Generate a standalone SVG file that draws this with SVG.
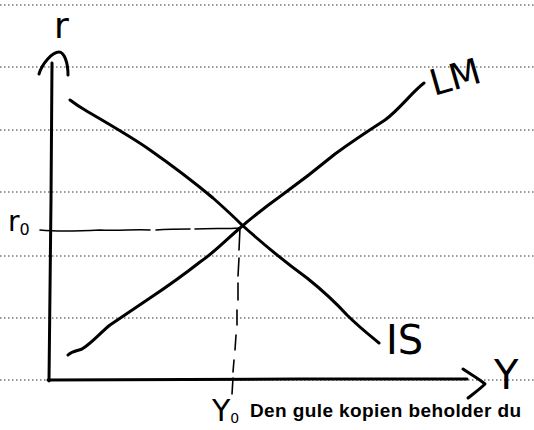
<svg xmlns="http://www.w3.org/2000/svg" width="534" height="430" viewBox="0 0 534 430">
<style>
.rule{stroke:#333;stroke-width:1.2;stroke-dasharray:1.5 2.5;fill:none}
.ink{stroke:#000;stroke-width:3;fill:none;stroke-linecap:round;stroke-linejoin:round}
.thin{stroke:#000;stroke-width:1.6;fill:none;stroke-linecap:round}
.hand{font-family:"DejaVu Sans","Liberation Sans",sans-serif;fill:#000}
.print{font-family:"Liberation Sans",Arial,sans-serif;font-weight:bold;font-size:19px;letter-spacing:0.4px;fill:#000}
</style>
<rect width="534" height="430" fill="#fff"/>
<g id="ruled-lines">
<line class="rule" x1="0" y1="5" x2="534" y2="5"/>
<line class="rule" x1="0" y1="67" x2="534" y2="67"/>
<line class="rule" x1="0" y1="130" x2="534" y2="130"/>
<line class="rule" x1="0" y1="192" x2="534" y2="192"/>
<line class="rule" x1="0" y1="256" x2="534" y2="256"/>
<line class="rule" x1="0" y1="318" x2="534" y2="318"/>
<line class="rule" x1="0" y1="380" x2="534" y2="380"/>
</g>
<g id="axis-r">
<path class="ink" d="M52,63 L51,200 L49,381"/>
<path class="ink" d="M39,74 C42,64 52,52 59,52 C64,52 68,62 68,75"/>
<text class="hand" x="54" y="38" font-size="36">r</text>
</g>
<g id="axis-Y">
<path class="ink" d="M48,380 L300,379 L467,379"/>
<path class="ink" d="M463,369 C470,374 478,378 485,384 C480,389 473,394 468,398"/>
<text class="hand" x="494" y="389" font-size="40">Y</text>
</g>
<g id="curve-IS">
<path class="ink" d="M70,100 C74,103 78,106 85,110 C105,122 130,136 150,150 C170,164 195,183 213,198 C222,206 232,215 242,225 C262,243 285,262 307,278 C322,290 336,303 347,315 C358,326 368,334 379,343"/>
<text class="hand" x="386" y="354" font-size="40">IS</text>
</g>
<g id="curve-LM">
<path class="ink" d="M68,355 C72,351 77,351 82,349 C92,343 100,333 110,325 C125,315 138,306 150,298 C168,286 186,273 200,262 C215,252 228,238 240,228 C255,215 268,205 282,195 C300,182 318,168 335,154 C350,143 368,131 385,120 C400,109 412,92 424,83"/>
<text class="hand" x="434" y="96" font-size="36" transform="rotate(-16 434 96)">LM</text>
</g>
<g id="equilibrium">
<path class="thin" d="M40,230 C60,232 80,231 100,230 C120,231 135,229 150,230 M156,230 C170,229 180,229 190,229 M195,229 C210,228 225,229 240,228"/>
<path class="thin" d="M240,228 L239,250 M239,258 L238,276 M238,283 L238,300 M237,310 L237,325 M236,335 L235,350 M234,360 L233,372 M233,378 L232,394"/>
<text class="hand" x="8" y="231" font-size="28">r<tspan font-size="16" dy="4">0</tspan></text>
<text class="hand" x="212" y="421" font-size="30">Y<tspan font-size="14" dy="2">0</tspan></text>
</g>
<text class="print" x="250" y="417">Den gule kopien beholder du</text>
</svg>
